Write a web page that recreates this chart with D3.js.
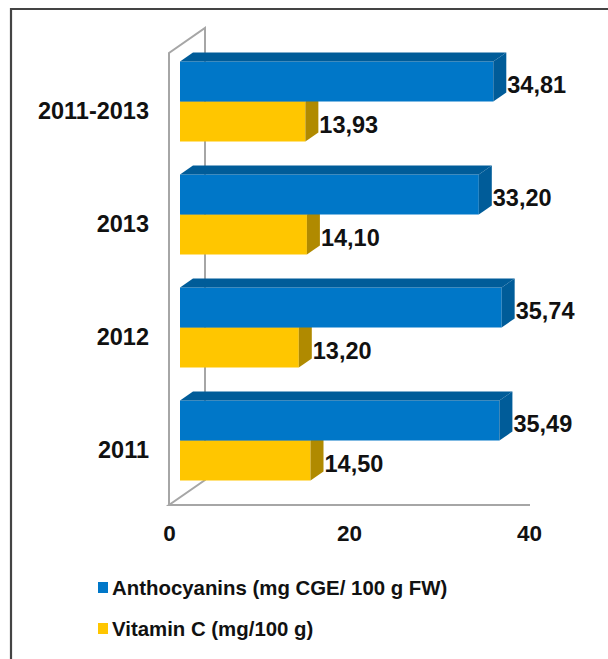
<!DOCTYPE html>
<html>
<head>
<meta charset="utf-8">
<script src="https://cdn.jsdelivr.net/npm/d3@7"></script>
<style>
  html, body { margin: 0; padding: 0; background: #fff; }
  svg { display: block; font-family: "Liberation Sans", Arial, sans-serif; }
</style>
</head>
<body>
<div id="chart"></div>
<script>
// ---------- data ----------
const categories = ['2011-2013', '2013', '2012', '2011'];
const anthocyanins = [34.81, 33.20, 35.74, 35.49];
const vitaminC = [13.93, 14.10, 13.20, 14.50];
const seriesNames = ['Anthocyanins (mg CGE/ 100 g FW)', 'Vitamin C (mg/100 g)'];
const xTicks = [0, 20, 40];

const W = 608, H = 659;
const colors = [
  { front: '#0077c8', dark: '#005c99' },
  { front: '#ffc600', dark: '#b08a00' }
];

const svg = d3.select('#chart').append('svg')
  .attr('width', W).attr('height', H);

// frame, cropped on right and bottom
svg.append('path')
  .attr('d', `M11,${H} L11,9 L${W},9`)
  .attr('fill', 'none').attr('stroke', '#444').attr('stroke-width', 2.2);

// ---------- scales ----------
const x = d3.scaleLinear().domain([0, 40]).range([169, 529]);
const y = d3.scaleBand().domain(categories).range([53, 505]);
const wall = [36, -25];          // depth vector of the walls
const front = [11, -8];          // bar front face offset inside the depth
const depth = [13, -9];          // bar thickness
const barH = 40;

// ---------- walls ----------
const wallCol = '#a6a6a6';
const g = svg.append('g');
const x0 = x(0), yTop = y.range()[0], yBot = y.range()[1];
g.append('path')
  .attr('d', `M${x0},${yBot} L${x0},${yTop} L${x0 + wall[0]},${yTop + wall[1]} L${x0 + wall[0]},${yBot + wall[1]} L${x0},${yBot} L${x(40) + 1},${yBot}`)
  .attr('fill', 'none').attr('stroke', wallCol).attr('stroke-width', 2);

// ---------- bars ----------
const rows = categories.map((c, i) => ({ cat: c, vals: [anthocyanins[i], vitaminC[i]] }));

const inner = d3.scaleBand().domain([0, 1]).range([-barH, barH]);

rows.forEach(r => {
  const cy = y(r.cat) + y.bandwidth() / 2 + front[1];
  // draw vitamin C first so the anthocyanin face covers its side top
  [1, 0].forEach(s => {
    const v = r.vals[s];
    const xa = x(0) + front[0], xb = x(v) + front[0];
    const yt = cy + inner(s), yb = yt + inner.bandwidth();
    const col = colors[s];
    const bg = g.append('g');
    bg.append('rect')
      .attr('x', xa).attr('y', yt)
      .attr('width', xb - xa).attr('height', yb - yt)
      .attr('fill', col.front);
    bg.append('path')
      .attr('d', `M${xa},${yt} L${xb},${yt} L${xb + depth[0]},${yt + depth[1]} L${xa + depth[0]},${yt + depth[1]} Z`)
      .attr('fill', col.dark);
    bg.append('path')
      .attr('d', `M${xb},${yt} L${xb + depth[0]},${yt + depth[1]} L${xb + depth[0]},${yb + depth[1]} L${xb},${yb} Z`)
      .attr('fill', col.dark);
    bg.append('text')
      .attr('x', xb + depth[0] + 1)
      .attr('y', (yt + yb) / 2 + 11)
      .attr('font-size', 23.5).attr('font-weight', 'bold').attr('fill', '#111')
      .text(d3.format('.2f')(v).replace('.', ','));
  });
});

// ---------- axes ----------
const xAxis = svg.append('g')
  .attr('transform', `translate(0,${yBot + 14})`)
  .call(d3.axisBottom(x).tickValues(xTicks).tickSize(0).tickPadding(0));
xAxis.select('.domain').remove();
xAxis.selectAll('text')
  .attr('dy', '0.96em')
  .attr('font-size', 22.5).attr('font-weight', 'bold').attr('fill', '#111')
  .attr('font-family', '"Liberation Sans", Arial, sans-serif');

const yAxis = svg.append('g')
  .attr('transform', 'translate(149,0)')
  .call(d3.axisLeft(y).tickSize(0).tickPadding(0));
yAxis.select('.domain').remove();
yAxis.selectAll('text')
  .attr('dy', '0.42em')
  .attr('font-size', 23.5).attr('font-weight', 'bold').attr('fill', '#111')
  .attr('font-family', '"Liberation Sans", Arial, sans-serif');

// ---------- legend ----------
const legend = svg.append('g').attr('transform', 'translate(98,582)');
const li = legend.selectAll('g').data(seriesNames).enter().append('g')
  .attr('transform', (d, i) => `translate(0,${i * 41})`);
li.append('rect').attr('width', 10).attr('height', 11)
  .attr('fill', (d, i) => colors[i].front);
li.append('text')
  .attr('x', 14).attr('y', 13)
  .attr('font-size', 20.4).attr('font-weight', 'bold').attr('fill', '#111')
  .text(d => d);
</script>
</body>
</html>
